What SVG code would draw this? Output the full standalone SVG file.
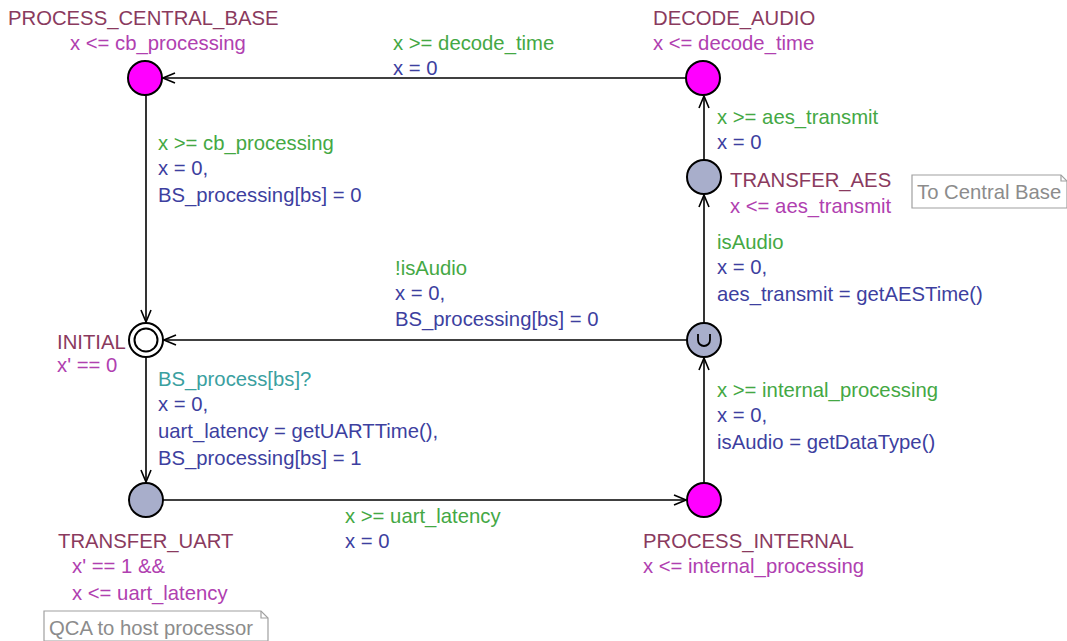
<svg xmlns="http://www.w3.org/2000/svg" width="1067" height="641" viewBox="0 0 1067 641">
  <style>
    text { font-family: "Liberation Sans", Arial, sans-serif; font-size: 20.3px; }
    .name { fill: #8a3a5e; }
    .inv { fill: #b040b0; }
    .guard { fill: #44a844; }
    .assign { fill: #3d3f9f; }
    .sync { fill: #3aa0a0; }
    .note { fill: #8c8c8c; }
    .loc { stroke: #000; stroke-width: 2; }
    .hot { fill: #ff00ff; }
    .plain { fill: #a8aecb; }
    .edge { stroke: #000; stroke-width: 1.6; fill: none; marker-end: url(#arrow); }
    .notebox { fill: #fff; stroke: #a0a0a0; stroke-width: 1.2; }
  </style>
  <defs>
    <marker id="arrow" viewBox="0 0 14 12" refX="13" refY="6" markerWidth="14" markerHeight="12" markerUnits="userSpaceOnUse" orient="auto">
      <path d="M1,1 L13,6 L1,11" fill="none" stroke="#000" stroke-width="1.6"/>
    </marker>
  </defs>
  <rect width="1067" height="641" fill="#fff"/>

  <!-- transitions -->
  <g id="edges">
    <line class="edge" x1="686" y1="78" x2="163" y2="78"/>
    <line class="edge" x1="146" y1="95" x2="146" y2="322"/>
    <line class="edge" x1="146" y1="357" x2="146" y2="482"/>
    <line class="edge" x1="163" y1="500" x2="686" y2="500"/>
    <line class="edge" x1="704" y1="483" x2="704" y2="358"/>
    <line class="edge" x1="687" y1="340" x2="164" y2="340"/>
    <line class="edge" x1="704" y1="323" x2="704" y2="195"/>
    <line class="edge" x1="704" y1="160" x2="704" y2="96"/>
  </g>

  <!-- transition labels -->
  <g id="labels">
    <text class="guard" x="393" y="50">x &gt;= decode_time</text>
    <text class="assign" x="393" y="75">x = 0</text>

    <text class="guard" x="717" y="124">x &gt;= aes_transmit</text>
    <text class="assign" x="717" y="149">x = 0</text>

    <text class="guard" x="158" y="150">x &gt;= cb_processing</text>
    <text class="assign" x="158" y="175">x = 0,</text>
    <text class="assign" x="158" y="202">BS_processing[bs] = 0</text>

    <text class="guard" x="395" y="275">!isAudio</text>
    <text class="assign" x="395" y="300">x = 0,</text>
    <text class="assign" x="395" y="326">BS_processing[bs] = 0</text>

    <text class="guard" x="717" y="249">isAudio</text>
    <text class="assign" x="717" y="274">x = 0,</text>
    <text class="assign" x="717" y="301">aes_transmit = getAESTime()</text>

    <text class="guard" x="717" y="397">x &gt;= internal_processing</text>
    <text class="assign" x="717" y="422">x = 0,</text>
    <text class="assign" x="717" y="449">isAudio = getDataType()</text>

    <text class="sync" x="158" y="386">BS_process[bs]?</text>
    <text class="assign" x="158" y="411">x = 0,</text>
    <text class="assign" x="158" y="438">uart_latency = getUARTTime(),</text>
    <text class="assign" x="158" y="465">BS_processing[bs] = 1</text>

    <text class="guard" x="345" y="523">x &gt;= uart_latency</text>
    <text class="assign" x="345" y="548">x = 0</text>
  </g>

  <!-- locations -->
  <g id="process-central-base">
    <circle class="loc hot" cx="145" cy="78" r="17"/>
    <text class="name" x="8" y="25">PROCESS_CENTRAL_BASE</text>
    <text class="inv" x="70" y="50">x &lt;= cb_processing</text>
  </g>

  <g id="decode-audio">
    <circle class="loc hot" cx="703" cy="78" r="17"/>
    <text class="name" x="653" y="25">DECODE_AUDIO</text>
    <text class="inv" x="653" y="50">x &lt;= decode_time</text>
  </g>

  <g id="transfer-aes">
    <circle class="loc plain" cx="704" cy="177" r="17"/>
    <text class="name" x="730" y="187">TRANSFER_AES</text>
    <text class="inv" x="730" y="213">x &lt;= aes_transmit</text>
  </g>

  <g id="urgent">
    <circle class="loc plain" cx="704" cy="340" r="17"/>
    <path d="M698,334 V340 A6,6 0 0 0 710,340 V334" fill="none" stroke="#000" stroke-width="1.8"/>
  </g>

  <g id="process-internal">
    <circle class="loc hot" cx="704" cy="500" r="17"/>
    <text class="name" x="643" y="548">PROCESS_INTERNAL</text>
    <text class="inv" x="643" y="573">x &lt;= internal_processing</text>
  </g>

  <g id="initial">
    <circle class="loc" cx="146" cy="340" r="17" fill="#fff"/>
    <circle class="loc" cx="146" cy="340" r="11.5" fill="#fff"/>
    <text class="name" x="57" y="349">INITIAL</text>
    <text class="inv" x="57" y="372">x' == 0</text>
  </g>

  <g id="transfer-uart">
    <circle class="loc plain" cx="146" cy="500" r="17"/>
    <text class="name" x="58" y="548">TRANSFER_UART</text>
    <text class="inv" x="72" y="573">x' == 1 &amp;&amp;</text>
    <text class="inv" x="72" y="600">x &lt;= uart_latency</text>
  </g>

  <!-- comments -->
  <g id="note-central-base">
    <path class="notebox" d="M912,175 H1061 L1067,181 V208 H912 Z"/>
    <path d="M1061,175 V181 H1067" fill="none" stroke="#a0a0a0" stroke-width="1.2"/>
    <text class="note" x="917" y="199">To Central Base</text>
  </g>

  <g id="note-qca">
    <path class="notebox" d="M44,611 H261 L268,618 V641 H44 Z"/>
    <path d="M261,611 V618 H268" fill="none" stroke="#a0a0a0" stroke-width="1.2"/>
    <text class="note" x="49" y="635">QCA to host processor</text>
  </g>
</svg>
